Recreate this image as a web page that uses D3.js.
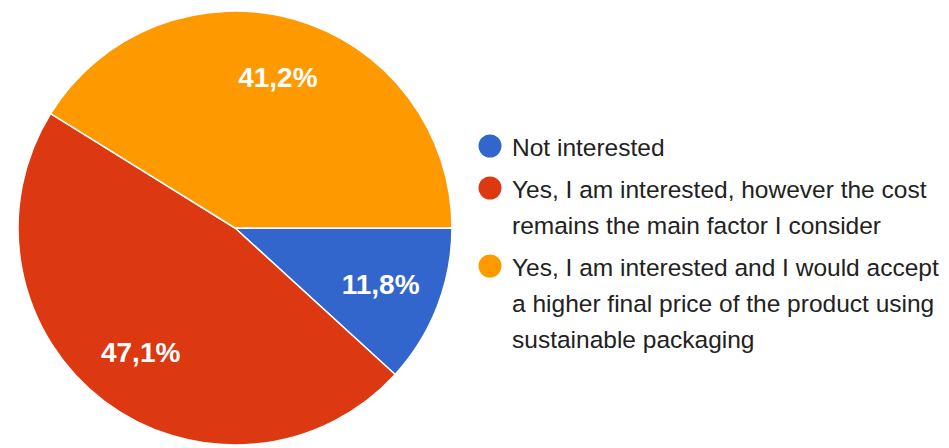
<!DOCTYPE html>
<html>
<head>
<meta charset="utf-8">
<script src="https://cdn.jsdelivr.net/npm/d3@7"></script>
<style>
  html, body { margin: 0; padding: 0; background: #ffffff; }
  svg { display: block; }
</style>
</head>
<body>
<svg id="chart" width="949" height="448"></svg>
<script>
const categories = [
  "Not interested",
  "Yes, I am interested, however the cost remains the main factor I consider",
  "Yes, I am interested and I would accept a higher final price of the product using sustainable packaging"
];
const legendLines = [
  ["Not interested"],
  ["Yes, I am interested, however the cost", "remains the main factor I consider"],
  ["Yes, I am interested and I would accept", "a higher final price of the product using", "sustainable packaging"]
];
const values = [11.8, 47.1, 41.2];
const valueLabels = ["11,8%", "47,1%", "41,2%"];
const colors = ["#3366cc", "#dc3912", "#ff9900"];

const svg = d3.select("#chart");
const cx = 235, cy = 228, r = 217;

const pie = d3.pie().sort(null).value(d => d)
  .startAngle(Math.PI / 2).endAngle(Math.PI / 2 + 2 * Math.PI);
const arcs = pie(values);
const arc = d3.arc().innerRadius(0).outerRadius(r);
const labelArc = d3.arc().innerRadius(r * 0.72).outerRadius(r * 0.72);

const g = svg.append("g").attr("transform", `translate(${cx},${cy})`);
g.selectAll("path.slice").data(arcs).join("path")
  .attr("class", "slice")
  .attr("d", arc)
  .attr("fill", (d, i) => colors[i])
  .attr("stroke", "#ffffff")
  .attr("stroke-width", 1.5);

g.selectAll("text.lbl").data(arcs).join("text")
  .attr("class", "lbl")
  .attr("transform", d => `translate(${labelArc.centroid(d)})`)
  .attr("text-anchor", "middle")
  .attr("dominant-baseline", "central")
  .attr("font-family", "Liberation Sans, Arial, sans-serif")
  .attr("font-size", 28)
  .attr("font-weight", "bold")
  .attr("fill", "#ffffff")
  .text((d, i) => valueLabels[i]);

// legend
const legendX = 490, textX = 512;
const lineH = 36, itemGap = 42;
const legend = svg.append("g");
let baseline = 156;
legendLines.forEach((lines, i) => {
  const item = legend.append("g");
  item.append("circle")
    .attr("cx", legendX)
    .attr("cy", baseline - 10)
    .attr("r", 11.5)
    .attr("fill", colors[i]);
  const t = item.append("text")
    .attr("font-family", "Liberation Sans, Arial, sans-serif")
    .attr("font-size", 24.5)
    .attr("fill", "#222222");
  lines.forEach((ln, j) => {
    t.append("tspan").attr("x", textX).attr("y", baseline + j * lineH).text(ln);
  });
  baseline += (lines.length - 1) * lineH + itemGap;
});
</script>
</body>
</html>
